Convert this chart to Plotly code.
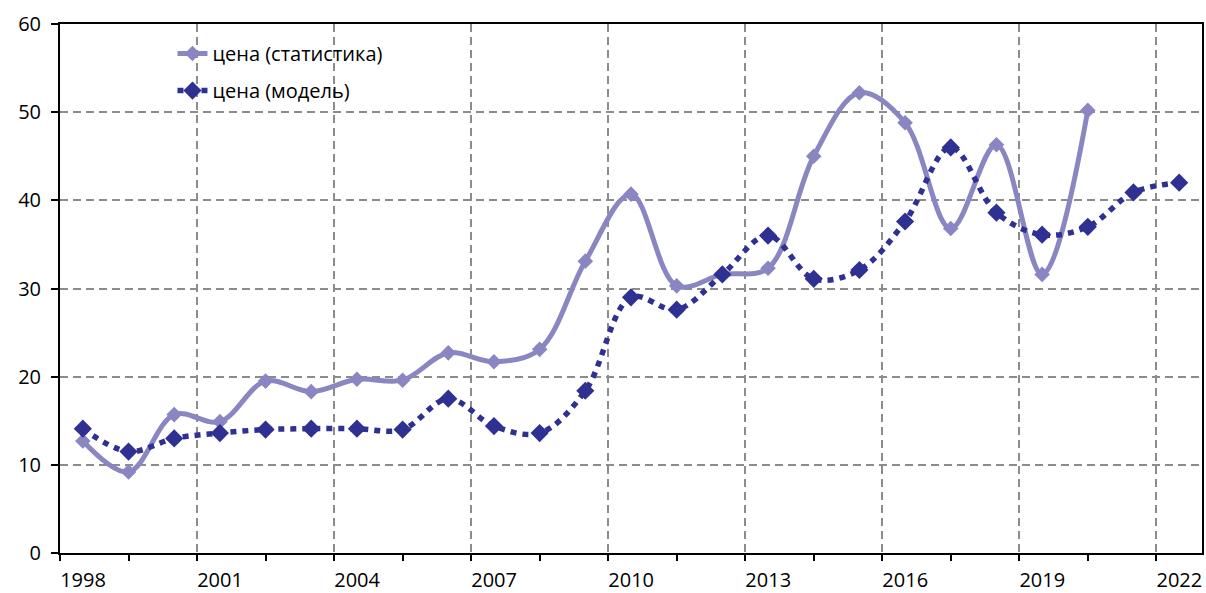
import plotly.graph_objects as go

# Data (points sit at mid-year)
years_stat = [1998, 1999, 2000, 2001, 2002, 2003, 2004, 2005, 2006, 2007, 2008,
              2009, 2010, 2011, 2012, 2013, 2014, 2015, 2016, 2017, 2018, 2019, 2020]
price_stat = [12.7, 9.2, 15.7, 14.9, 19.5, 18.3, 19.7, 19.6, 22.7, 21.7, 23.1,
              33.1, 40.7, 30.3, 31.6, 32.3, 45.0, 52.2, 48.8, 36.8, 46.3, 31.6, 50.2]

years_model = [1998, 1999, 2000, 2001, 2002, 2003, 2004, 2005, 2006, 2007, 2008,
               2009, 2010, 2011, 2012, 2013, 2014, 2015, 2016, 2017, 2018, 2019,
               2020, 2021, 2022]
price_model = [14.1, 11.5, 13.0, 13.6, 14.0, 14.1, 14.1, 14.0, 17.5, 14.4, 13.6,
               18.4, 29.0, 27.6, 31.6, 36.0, 31.1, 32.1, 37.6, 46.0, 38.6, 36.1,
               37.0, 40.9, 42.0]

name_stat = "цена (статистика)"
name_model = "цена (модель)"

x_tick_vals = [1998, 2001, 2004, 2007, 2010, 2013, 2016, 2019, 2022]
x_tick_text = [str(v) for v in x_tick_vals]
y_tick_vals = [0, 10, 20, 30, 40, 50, 60]

COL_STAT = "#8A86C2"
COL_MODEL = "#2E3192"
FONT = "Open Sans"

fig = go.Figure()
fig.add_trace(go.Scatter(
    x=[y + 0.5 for y in years_stat], y=price_stat, name=name_stat,
    mode="lines+markers", legendgroup="a",
    line=dict(color=COL_STAT, width=5, shape="spline", smoothing=1.0),
    marker=dict(symbol="diamond", size=12, color=COL_STAT),
))
fig.add_trace(go.Scatter(
    x=[y + 0.5 for y in years_model], y=price_model, name=name_model,
    mode="lines+markers", legendgroup="b",
    line=dict(color=COL_MODEL, width=5.5, shape="spline", smoothing=1.0, dash="6px,6px"),
    marker=dict(symbol="diamond", size=14, color=COL_MODEL),
))

grid_common = dict(gridcolor="#8C8C8C", gridwidth=1.5, griddash="8px,5px")

fig.update_layout(
    template="none",
    width=1206, height=593,
    margin=dict(l=60, r=4, t=24, b=40, autoexpand=False),
    paper_bgcolor="white", plot_bgcolor="white",
    font=dict(family=FONT, size=20, color="black"),
    showlegend=True,
    legend=dict(
        x=0.0985, y=0.981, xanchor="left", yanchor="top",
        bgcolor="rgba(0,0,0,0)", borderwidth=0,
        font=dict(family=FONT, size=20, color="black"),
        tracegroupgap=8, itemwidth=30,
    ),
    xaxis=dict(
        range=[1998, 2023], tickmode="array", tickvals=x_tick_vals, ticktext=x_tick_text,
        automargin=False,
        showgrid=True, **grid_common,
        showline=True, linecolor="black", linewidth=2, mirror=True,
        ticks="outside", ticklen=6, tickwidth=2, tickcolor="black",
        minor=dict(tickmode="linear", tick0=1998, dtick=1.5, ticks="outside",
                   ticklen=6, tickwidth=2, tickcolor="black", showgrid=False),
        ticklabelshift=23, ticklabelstandoff=2,
        zeroline=False,
    ),
    xaxis2=dict(
        range=[1998, 2023], overlaying="x", anchor="y", side="bottom",
        automargin=False,
        tickmode="linear", tick0=1998, dtick=1.5,
        ticks="inside", ticklen=5, tickwidth=2, tickcolor="black",
        showticklabels=False, showgrid=False, showline=False, zeroline=False,
    ),
    yaxis=dict(
        range=[0, 60], tickmode="array", tickvals=y_tick_vals,
        automargin=False,
        showgrid=True, **grid_common,
        showline=True, linecolor="black", linewidth=2, mirror=True,
        ticks="outside", ticklen=7, tickwidth=2, tickcolor="black",
        ticklabelstandoff=6, zeroline=False,
    ),
)

fig.write_html(
    "out.html",
    config={"displayModeBar": False},
    post_script="document.body.style.margin='0';document.body.style.overflow='hidden';",
)
